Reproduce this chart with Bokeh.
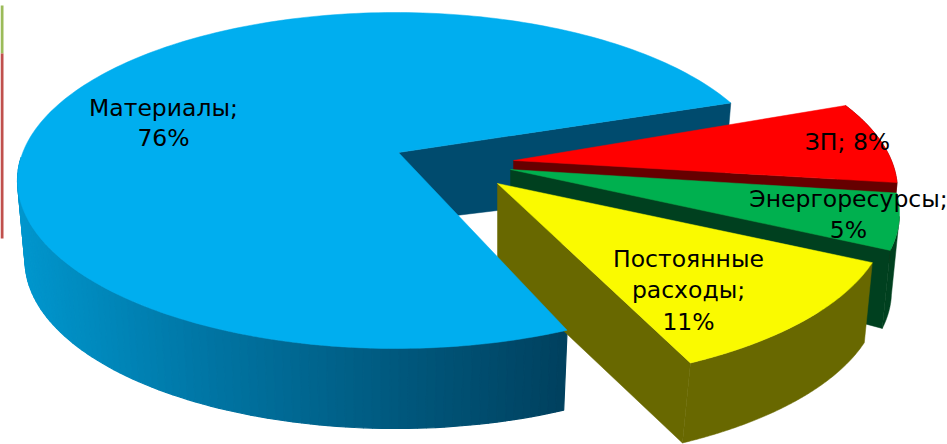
import math
from bokeh.plotting import figure
from bokeh.embed import file_html
from bokeh.resources import INLINE
from bokeh.core.properties import value

categories = ["Материалы", "ЗП", "Энергоресурсы", "Постоянные расходы"]
shares = [76, 8, 5, 11]
label_lines = [["Материалы;", "76%"], ["ЗП; 8%"], ["Энергоресурсы;", "5%"], ["Постоянные", "расходы;", "11%"]]
top_colors = ["#00AEEF", "#FF0000", "#00B04F", "#FAFA00"]
wall_colors = ["#004B6E", "#660000", "#00401F", "#686800"]

# layout of the exploded 3-D view (pixels)
A, B = 378, 168
centers = [(395, 180), (519, 190), (521, 213), (509, 215)]
apexes = [(398, 152), (513, 160), (510, 169), (497, 183)]
starts = [27.5, 30.4, 7.0, -16.3]
stretch = [269.5 / 273.6, 27.7 / 28.8, 19.7 / 18.0, 45.1 / 39.6]
rim_depth = [80, 80, 78, 80]
apex_depth = [70, 60, 60, 85]
shrink = [0.98, 1.0, 1.0, 1.0]
shift = [0, -8, -8, -8]
label_pos = [[(163, 107), (163, 137)], [(847, 141)], [(848, 198), (848, 229)],
             [(688, 258), (688, 289), (688, 321)]]
gradient = [(20, (0, 150, 205)), (200, (0, 118, 165)), (400, (0, 88, 125)), (565, (0, 65, 95))]


def rim(i, t, bottom=False):
    cx, cy = centers[i]
    r = math.radians(t)
    if bottom:
        return cx + shift[i] + A * shrink[i] * math.cos(r), cy - B * math.sin(r) + rim_depth[i]
    return cx + A * math.cos(r), cy - B * math.sin(r)


def arc(i, t0, t1, bottom=False, n=120):
    pts = [rim(i, t0 + (t1 - t0) * k / n, bottom) for k in range(n + 1)]
    return [q[0] for q in pts], [q[1] for q in pts]


def angles(i):
    sweep = shares[i] / sum(shares) * 360 * stretch[i]
    if i == 0:
        return starts[0], starts[0] + sweep
    return starts[i], starts[i] - sweep


def grad(x):
    for (x0, c0), (x1, c1) in zip(gradient, gradient[1:]):
        if x <= x1:
            f = max(0, (x - x0) / (x1 - x0))
            return "#%02x%02x%02x" % tuple(round(a + (b - a) * f) for a, b in zip(c0, c1))
    return "#%02x%02x%02x" % gradient[-1][1]


p = figure(width=947, height=444, x_range=(0, 947), y_range=(444, 0),
           output_backend="svg", toolbar_location=None, min_border=0,
           outline_line_color=None, background_fill_color="white")
p.axis.visible = False
p.grid.visible = False

# thin artefact bars at the left edge of the picture
p.quad(left=[0, 0], right=[3, 3], top=[5, 53], bottom=[53, 238],
       fill_color=["#9BBB59", "#C0504D"], line_color=None)


def radial_wall(i, t):
    ax, ay = apexes[i]
    x1, y1 = rim(i, t)
    x2, y2 = rim(i, t, True)
    p.patch([ax, x1, x2, ax], [ay, y1, y2, ay + apex_depth[i]],
            fill_color=wall_colors[i], line_color=wall_colors[i], line_width=0.5)


def top_face(i):
    t0, t1 = angles(i)
    xs, ys = arc(i, t0, t1, n=240)
    ax, ay = apexes[i]
    p.patch([ax] + xs, [ay] + ys, fill_color=top_colors[i], line_color=top_colors[i], line_width=0.5)


def main_side():
    t0, t1 = angles(0)
    radial_wall(0, t0)
    xs_strip, ys_strip, cols = [], [], []
    N = 90
    for k in range(N):
        a = 172 + (t1 - 172) * k / N
        b = 172 + (t1 - 172) * (k + 1) / N
        xa, ya = rim(0, a)
        xb, yb = rim(0, b)
        xc, yc = rim(0, b, True)
        xd, yd = rim(0, a, True)
        xs_strip.append([xa, xb, xc, xd])
        ys_strip.append([ya, yb, yc, yd])
        cols.append(grad((xa + xb) / 2))
    p.patches(xs_strip, ys_strip, fill_color=cols, line_color=cols, line_width=1.2)


def slice_parts(i):
    t0, t1 = angles(i)
    t_from = t0 - 8 if i == 2 else t0
    bx, by = arc(i, t_from, t1, True)
    tx, ty = arc(i, t_from, t1)
    p.patch(tx + bx[::-1], ty + by[::-1], fill_color=wall_colors[i], line_color=wall_colors[i], line_width=0.5)
    radial_wall(i, t1)
    top_face(i)


main_side()
for i in (1, 2, 3):
    slice_parts(i)

# the materials top face lies over the foot of the yellow wall
top_face(0)

# labels
for i, lines in enumerate(label_lines):
    for text, (x, y) in zip(lines, label_pos[i]):
        p.text([x], [y], text=[text], text_align="center", text_baseline="middle",
               text_font=value("DejaVu Sans"), text_font_size="23.5px", text_color="#000000")

open("out.html", "w").write(file_html(p, INLINE))
